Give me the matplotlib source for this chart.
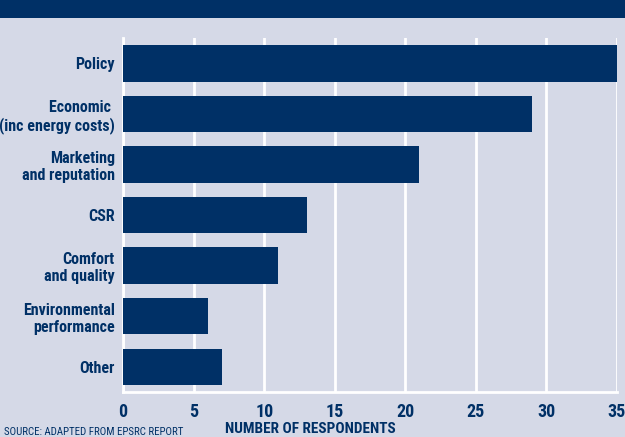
import matplotlib.pyplot as plt
from matplotlib import font_manager
from matplotlib.patches import Rectangle

categories = ["Policy", "Economic \n(inc energy costs)", "Marketing\nand reputation", "CSR",
              "Comfort\nand quality", "Environmental\nperformance", "Other"]
respondents = [35, 29, 21, 13, 11, 6, 7]
xticks = [0, 5, 10, 15, 20, 25, 30, 35]

navy = "#003066"
bg = "#d5d9e7"

# prefer a condensed face if one is installed
names = {f.name for f in font_manager.fontManager.ttflist}
condensed = [n for n in ["Roboto Condensed", "DejaVu Sans Condensed", "Liberation Sans Narrow"] if n in names]
if condensed:
    font = [condensed[0], "DejaVu Sans"]
    ysize, xsize, srcsize, titsize = 11.5, 13, 7.8, 11
else:
    font = ["Roboto", "DejaVu Sans"]
    ysize, xsize, srcsize, titsize = 9.5, 11, 6.5, 10

fig = plt.figure(figsize=(6.25, 4.37), dpi=100)
fig.patch.set_facecolor(bg)
# dark header band at the top
fig.patches.append(Rectangle((0, 1 - 18 / 437), 1, 18 / 437, transform=fig.transFigure,
                             facecolor=navy, edgecolor="none"))

ax = fig.add_axes([0.197, 0.103, 0.79, 0.81])
ax.set_facecolor(bg)
ypos = list(range(len(categories)))
ax.barh(ypos, respondents, height=0.72, color=navy, zorder=3)

ax.set_xlim(0, 35)
ax.set_ylim(6.5, -0.5)
ax.set_xticks(xticks)
ax.set_xticklabels([str(t) for t in xticks])
ax.set_yticks(ypos)
ax.set_yticklabels(categories, ha="right", multialignment="right")
ax.grid(axis="x", color="white", linewidth=2, zorder=1)
ax.tick_params(axis="y", length=0, pad=6, labelcolor=navy)
ax.tick_params(axis="x", length=0, pad=8, labelcolor=navy)
for lab in ax.get_yticklabels():
    lab.set_family(font)
    lab.set_fontweight("bold")
    lab.set_fontsize(ysize)
for lab in ax.get_xticklabels():
    lab.set_family(font)
    lab.set_fontweight("bold")
    lab.set_fontsize(xsize)
for s in ["top", "right"]:
    ax.spines[s].set_visible(False)
for s in ["left", "bottom"]:
    ax.spines[s].set_color("white")
    ax.spines[s].set_linewidth(2)

fig.text(0.007, 0.0, "SOURCE: ADAPTED FROM EPSRC REPORT", family=font, fontsize=srcsize,
         color=navy, ha="left", va="bottom")
fig.text(0.497, 0.002, "NUMBER OF RESPONDENTS", family=font, fontsize=titsize,
         fontweight="bold", color=navy, ha="center", va="bottom")

fig.savefig("out.png", dpi=100, facecolor=bg)
